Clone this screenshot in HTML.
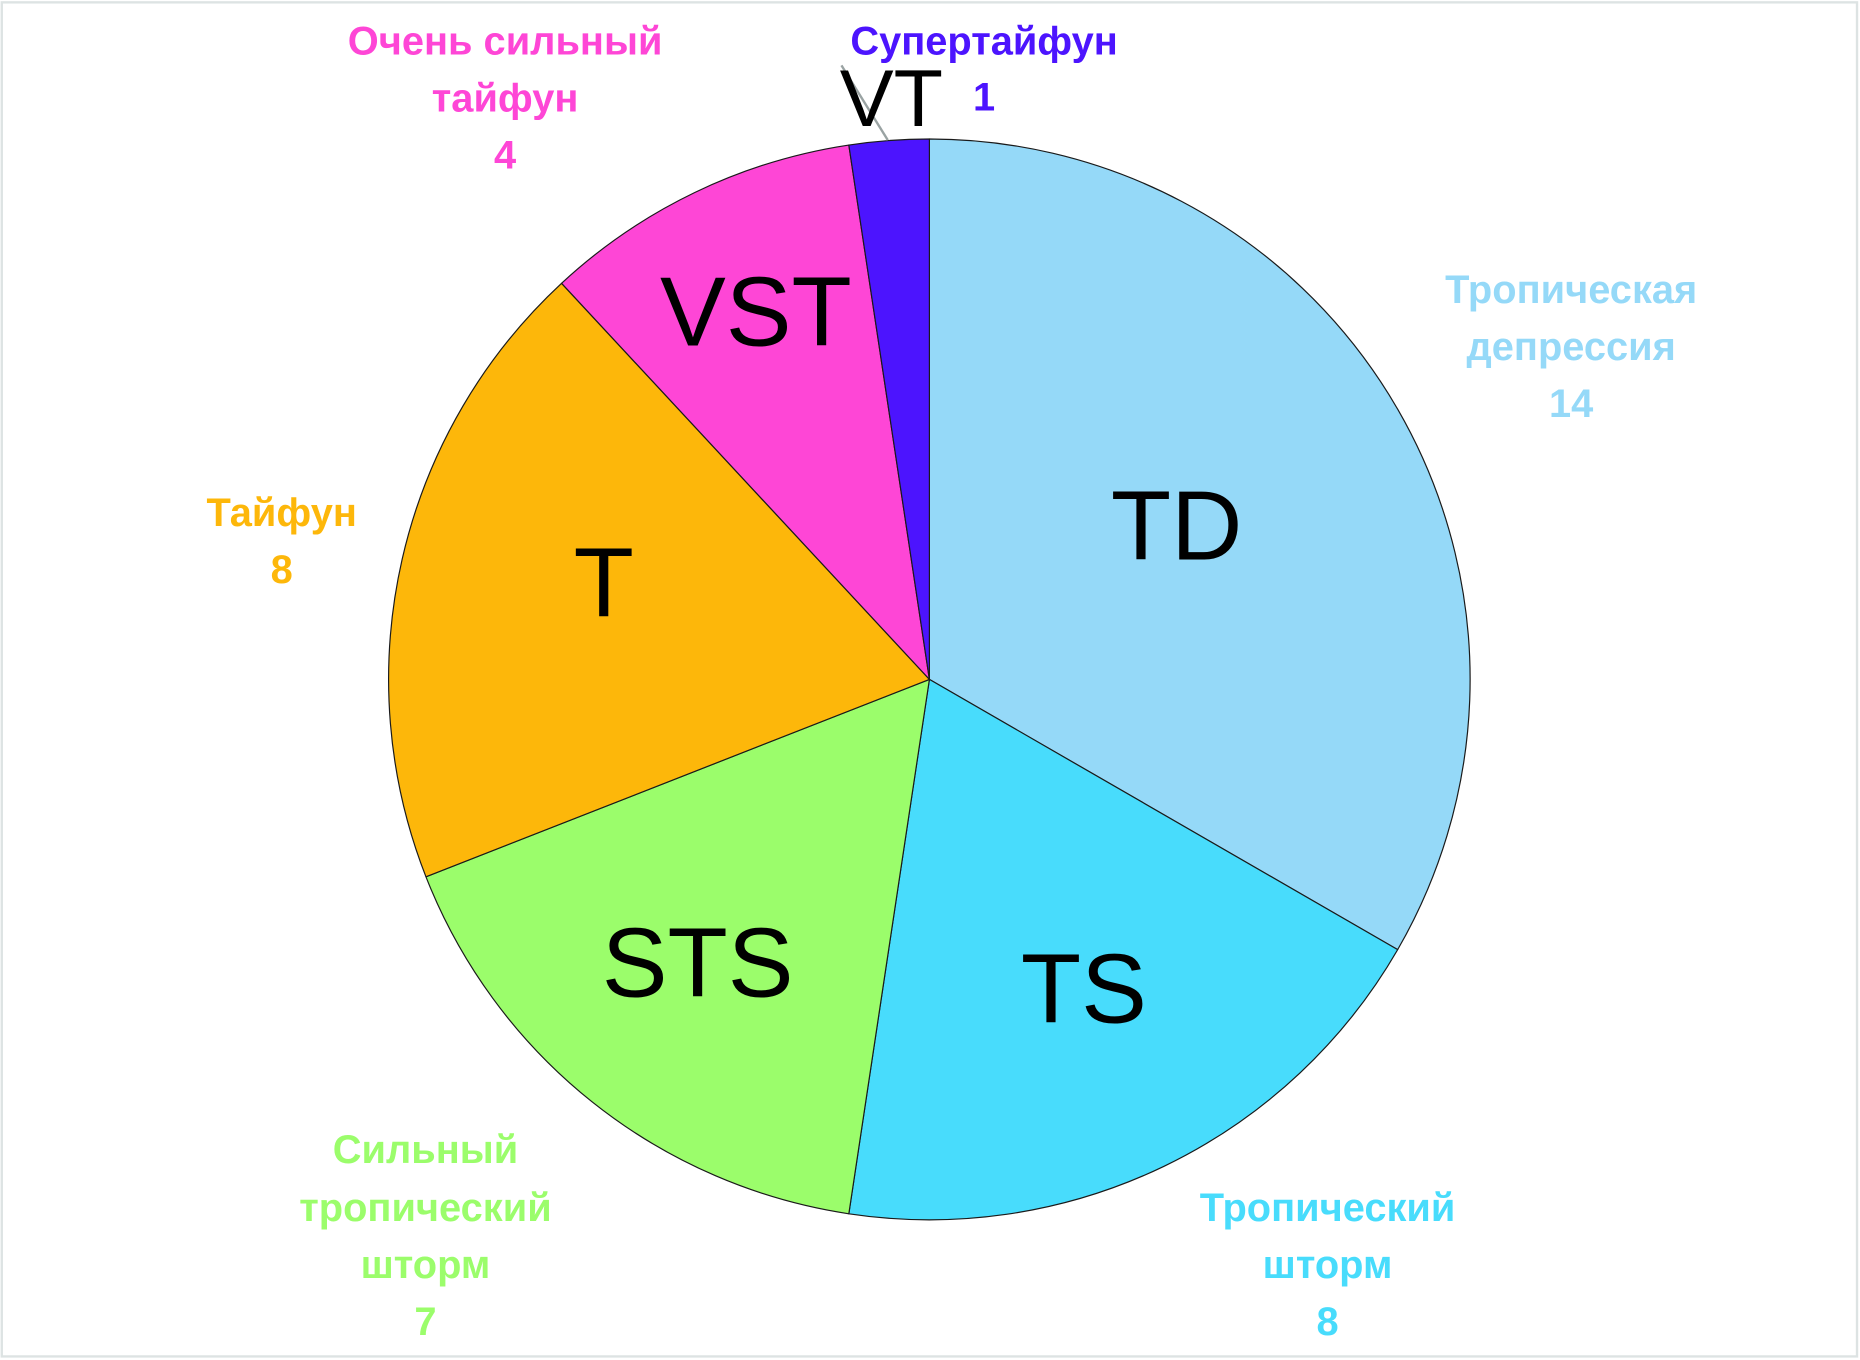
<!DOCTYPE html>
<html><head><meta charset="utf-8"><style>html,body{margin:0;padding:0;background:#fff}svg{display:block}</style></head>
<body>
<svg width="1860" height="1360" viewBox="0 0 1565 1145" preserveAspectRatio="none" xmlns="http://www.w3.org/2000/svg">
<rect x="1.5" y="2" width="1561" height="1140" fill="#fff" stroke="#dde3e3" stroke-width="2"/>
<g stroke="#1a1a1a" stroke-width="1" stroke-linejoin="round">
<path d="M782,572 L782,117 A455,455 0 0 1 1176,799.5 Z" fill="#95d9f8"/>
<path d="M782,572 L1176,799.5 A455,455 0 0 1 714.2,1021.9 Z" fill="#48dcfc"/>
<path d="M782,572 L714.2,1021.9 A455,455 0 0 1 358.4,738.2 Z" fill="#9bfd6b"/>
<path d="M782,572 L358.4,738.2 A455,455 0 0 1 472.5,238.5 Z" fill="#fdb70a"/>
<path d="M782,572 L472.5,238.5 A455,455 0 0 1 714.2,122.1 Z" fill="#fe46d6"/>
<path d="M782,572 L714.2,122.1 A455,455 0 0 1 782,117 Z" fill="#4c14fe"/>
</g>
<line x1="708" y1="55" x2="747" y2="118" stroke="#9aa3a3" stroke-width="2"/>
<g font-family="Liberation Sans, DejaVu Sans, sans-serif" text-anchor="middle" fill="#000" font-size="83">
<text x="990" y="471">TD</text>
<text x="912" y="861">TS</text>
<text x="587" y="839">STS</text>
<text x="508" y="519">T</text>
<text x="636" y="291">VST</text>
<text x="750" y="106" font-size="68">VT</text>
</g>
<g font-family="Liberation Sans, DejaVu Sans, sans-serif" text-anchor="middle" font-weight="bold" font-size="33.5">
<g fill="#fe46d6"><text x="425" y="46">Очень сильный</text><text x="425" y="94">тайфун</text><text x="425" y="142">4</text></g>
<g fill="#4c14fe"><text x="828" y="46">Супертайфун</text><text x="828" y="93">1</text></g>
<g fill="#95d9f8"><text x="1322" y="255">Тропическая</text><text x="1322" y="303">депрессия</text><text x="1322" y="351">14</text></g>
<g fill="#fdb70a"><text x="237" y="443">Тайфун</text><text x="237" y="491">8</text></g>
<g fill="#9bfd6b"><text x="358" y="979">Сильный</text><text x="358" y="1028">тропический</text><text x="358" y="1076">шторм</text><text x="358" y="1124">7</text></g>
<g fill="#48dcfc"><text x="1117" y="1028">Тропический</text><text x="1117" y="1076">шторм</text><text x="1117" y="1124">8</text></g>
</g>
</svg>
</body></html>
